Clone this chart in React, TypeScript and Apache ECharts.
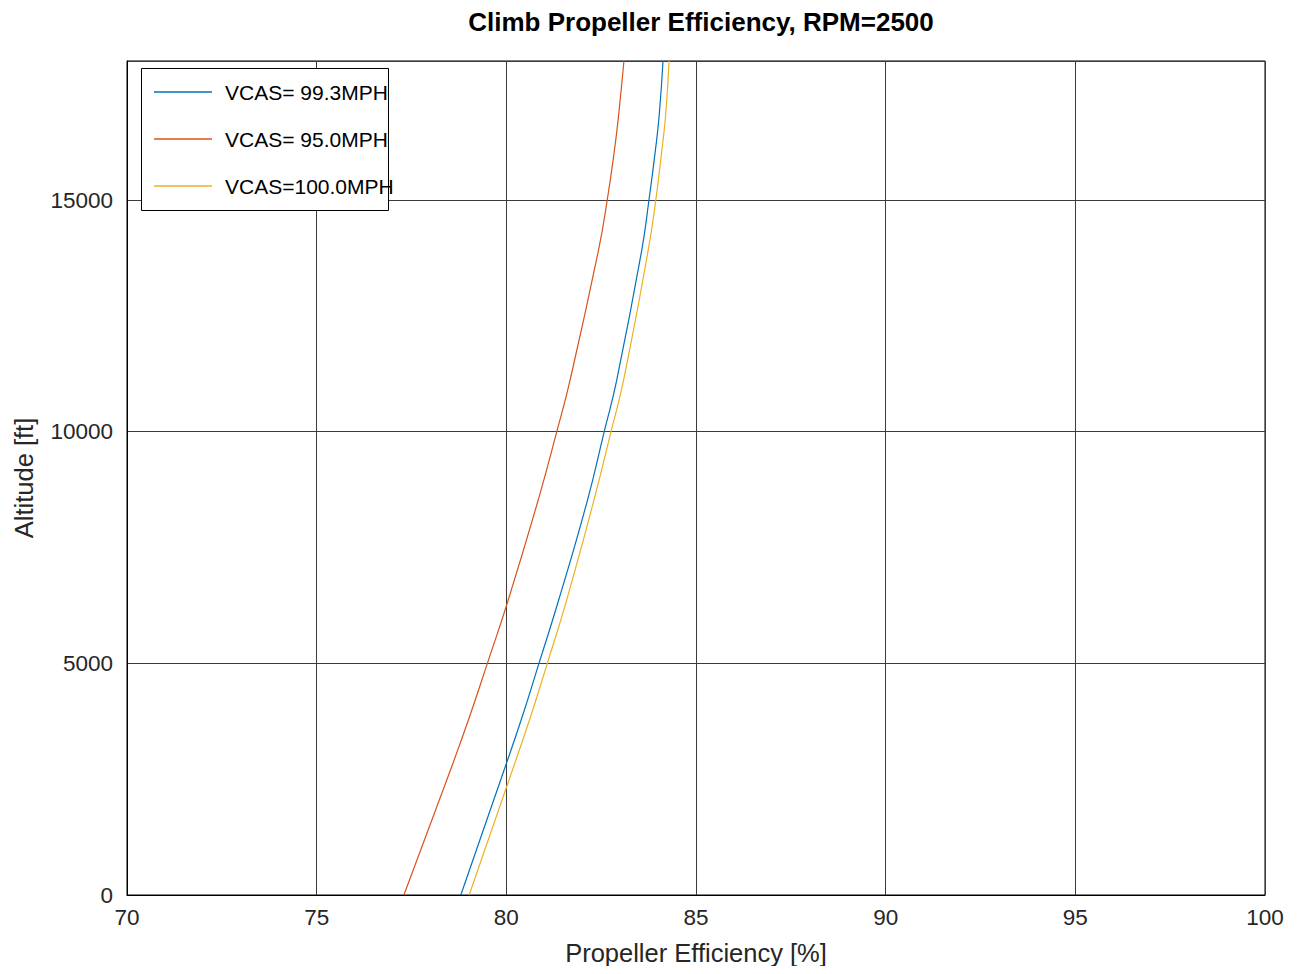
import React, { useEffect, useRef } from "react";
import * as echarts from "echarts";

const altitudes = [0, 2482, 3776, 5000, 6366, 8524, 10000, 11114, 13920, 15000, 16077, 16833, 18000];
const effV99 = [78.8, 79.85, 80.39, 80.86, 81.38, 82.14, 82.58, 82.91, 83.57, 83.76, 83.93, 84.03, 84.13];
const effV95 = [77.3, 78.43, 79.0, 79.5, 80.05, 80.84, 81.33, 81.68, 82.43, 82.66, 82.85, 82.96, 83.1];
const effV100 = [79.02, 80.07, 80.61, 81.08, 81.59, 82.31, 82.76, 83.09, 83.74, 83.94, 84.1, 84.2, 84.29];
const seriesNames = ["VCAS= 99.3MPH", "VCAS= 95.0MPH", "VCAS=100.0MPH"];
const seriesColors = ["#0072BD", "#D95319", "#EDB120"];

const FONT = "'Liberation Sans', Arial, Helvetica, sans-serif";

export default function App() {
  const ref = useRef<HTMLDivElement>(null);
  useEffect(() => {
    if (!ref.current) return;
    const chart = echarts.init(ref.current, undefined, { renderer: "svg" });
    const effs = [effV99, effV95, effV100];
    chart.setOption({
      animation: false,
      backgroundColor: "#ffffff",
      textStyle: { fontFamily: FONT },
      title: {
        text: "Climb Propeller Efficiency, RPM=2500",
        left: 696,
        textAlign: "center",
        top: 4,
        textStyle: { fontSize: 26, fontWeight: "bold", color: "#000", fontFamily: FONT },
      },
      grid: {
        left: 127,
        right: 35,
        top: 61,
        bottom: 79,
        show: true,
        borderColor: "#000",
        borderWidth: 1,
        backgroundColor: "#fff",
      },
      xAxis: {
        type: "value",
        min: 70,
        max: 100,
        interval: 5,
        name: "Propeller Efficiency [%]",
        nameLocation: "middle",
        nameGap: 45,
        nameTextStyle: { fontSize: 25.5, color: "#262626", fontFamily: FONT },
        axisLine: { show: true, lineStyle: { color: "#000", width: 1 } },
        axisTick: { show: false },
        axisLabel: { fontSize: 22.5, color: "#262626", margin: 11, fontFamily: FONT },
        splitLine: { show: true, lineStyle: { color: "#3a3a3a", width: 1 } },
      },
      yAxis: {
        type: "value",
        min: 0,
        max: 18000,
        interval: 5000,
        name: "Altitude [ft]",
        nameLocation: "middle",
        nameGap: 90,
        nameTextStyle: { fontSize: 25.5, color: "#262626", fontFamily: FONT },
        axisLine: { show: true, lineStyle: { color: "#000", width: 1 } },
        axisTick: { show: false },
        axisLabel: {
          fontSize: 22.5,
          color: "#262626",
          margin: 14,
          showMaxLabel: false,
          fontFamily: FONT,
          formatter: (v: number) => String(v),
        },
        splitLine: { show: true, lineStyle: { color: "#3a3a3a", width: 1 } },
      },
      legend: {
        orient: "vertical",
        left: 149,
        top: 75,
        itemWidth: 58,
        itemHeight: 1.5,
        itemGap: 23,
        icon: "rect",
        z: 10,
        textStyle: { fontSize: 21, color: "#000", lineHeight: 24, padding: [0, 0, 0, 8], fontFamily: FONT },
        data: seriesNames,
      },
      graphic: [
        {
          type: "rect",
          z: 5,
          shape: { x: 141.5, y: 68.5, width: 247, height: 142 },
          style: { fill: "#fff", stroke: "#000", lineWidth: 1 },
        },
      ],
      series: seriesNames.map((name, i) => ({
        name,
        type: "line",
        smooth: 0.5,
        showSymbol: false,
        symbol: "none",
        color: seriesColors[i],
        lineStyle: { width: 1.2, color: seriesColors[i] },
        data: altitudes.map((a, j) => [effs[i][j], a]),
      })),
    });
    return () => chart.dispose();
  }, []);
  return <div ref={ref} style={{ width: 1300, height: 974, margin: -8 }} />;
}
